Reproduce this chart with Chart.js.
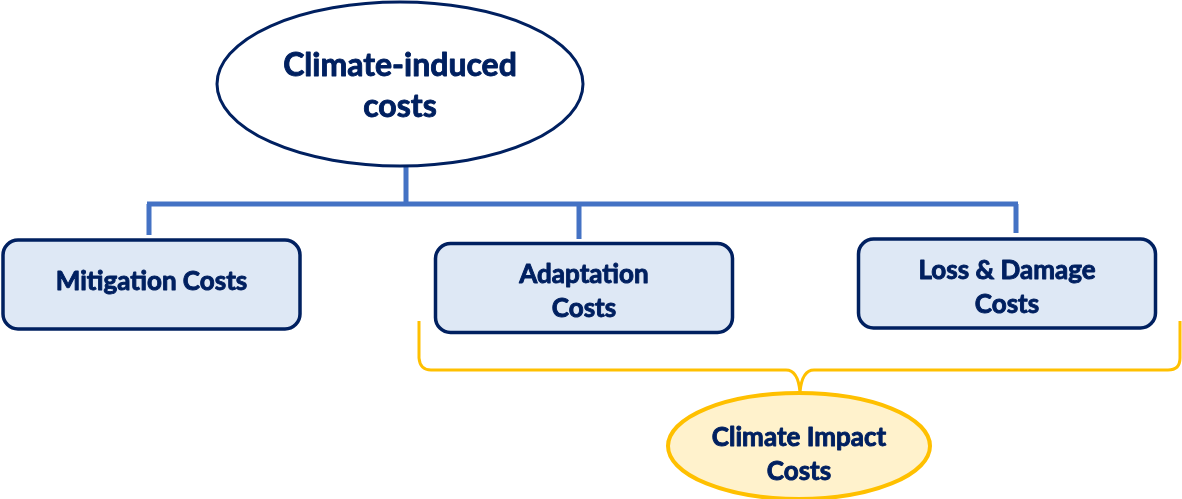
<!DOCTYPE html>
<html>
<head>
<meta charset="utf-8">
<script src="https://cdn.jsdelivr.net/npm/chart.js@4"></script>
<style>
html, body { margin: 0; padding: 0; background: #fff; }
#wrap { width: 1182px; height: 499px; }
</style>
</head>
<body>
<div id="wrap"><canvas id="diagram"></canvas></div>
<script>
// Nodos del diagrama (centros en unidades del diagrama)
const nodeLabels = [['Climate-induced', 'costs'], ['Mitigation Costs'], ['Adaptation', 'Costs'], ['Loss & Damage', 'Costs'], ['Climate Impact', 'Costs']];
const nodeKinds = ['root', 'box', 'box', 'box', 'impact'];
const nodeX = [400, 151.5, 584, 1007, 799];
const nodeY = [84, 284.5, 288, 283.5, 446];
// Desplazamiento vertical del texto respecto al centro del nodo
const labelShift = [2.5, -2.5, 3.5, 4, 9];

// Conectores del árbol: [x1, y1, x2, y2]
const treeLines = [
    [406, 166, 406, 204],
    [147, 204, 1018, 204],
    [149, 204, 149, 235],
    [579, 204, 579, 239],
    [1016, 204, 1016, 233]
];

// Llave amarilla bajo Adaptation y Loss & Damage
const braceLeft = 419, braceRight = 1180, braceTop = 321, braceMid = 370, braceTip = 392, braceCenter = 800;

// Estilos por tipo de nodo (tamaños en unidades del diagrama)
const kindStyle = {
    root:   { shape: 'ellipse', w: 366, h: 164, fill: '#ffffff', stroke: '#002060', lw: 3, font: 32, lineGap: 41 },
    box:    { shape: 'rect',    w: 297, h: 89,  fill: '#dee8f5', stroke: '#002060', lw: 3.5, font: 26, lineGap: 34 },
    impact: { shape: 'ellipse', w: 262, h: 106, fill: '#fff2cc', stroke: '#ffc000', lw: 4, font: 26, lineGap: 34 }
};

const diagramPlugin = {
    id: 'diagram',
    afterDatasetsDraw(chart) {
        const { ctx, scales: { x, y } } = chart;
        const px = v => x.getPixelForValue(v);
        const py = v => y.getPixelForValue(v);

        // Llave
        ctx.save();
        ctx.strokeStyle = '#ffc000';
        ctx.lineWidth = 3;
        ctx.lineJoin = 'round';
        ctx.beginPath();
        ctx.moveTo(px(braceLeft), py(braceTop));
        ctx.lineTo(px(braceLeft), py(braceMid - 12));
        ctx.quadraticCurveTo(px(braceLeft + 1), py(braceMid), px(braceLeft + 12), py(braceMid));
        ctx.lineTo(px(braceCenter - 14), py(braceMid));
        ctx.quadraticCurveTo(px(braceCenter - 2), py(braceMid), px(braceCenter), py(braceTip));
        ctx.quadraticCurveTo(px(braceCenter + 2), py(braceMid), px(braceCenter + 14), py(braceMid));
        ctx.lineTo(px(braceRight - 12), py(braceMid));
        ctx.quadraticCurveTo(px(braceRight), py(braceMid), px(braceRight), py(braceMid - 12));
        ctx.lineTo(px(braceRight), py(braceTop));
        ctx.stroke();
        ctx.restore();

        // Nodos
        nodeLabels.forEach((lines, i) => {
            const st = kindStyle[nodeKinds[i]];
            const cx = px(nodeX[i]), cy = py(nodeY[i]);
            const w = px(nodeX[i] + st.w / 2) - px(nodeX[i] - st.w / 2);
            const h = Math.abs(py(nodeY[i] + st.h / 2) - py(nodeY[i] - st.h / 2));
            ctx.save();
            ctx.beginPath();
            if (st.shape === 'ellipse') {
                ctx.ellipse(cx, cy, w / 2, h / 2, 0, 0, Math.PI * 2);
            } else {
                ctx.roundRect(cx - w / 2, cy - h / 2, w, h, 15);
            }
            ctx.fillStyle = st.fill;
            ctx.fill();
            ctx.strokeStyle = st.stroke;
            ctx.lineWidth = st.lw;
            ctx.stroke();

            // Texto (con trazo fino para engrosar la negrita)
            ctx.fillStyle = '#002060';
            ctx.strokeStyle = '#002060';
            ctx.lineWidth = 0.9;
            ctx.lineJoin = 'round';
            ctx.font = 'bold ' + st.font + 'px Lato';
            ctx.textAlign = 'center';
            ctx.textBaseline = 'middle';
            const ty = py(nodeY[i] + labelShift[i]);
            const start = ty - (lines.length - 1) * st.lineGap / 2;
            lines.forEach((t, j) => {
                ctx.fillText(t, cx, start + j * st.lineGap);
                ctx.strokeText(t, cx, start + j * st.lineGap);
            });
            ctx.restore();
        });
    }
};

new Chart(document.getElementById('diagram'), {
    type: 'scatter',
    data: {
        datasets: treeLines.map(l => ({
            data: [{ x: l[0], y: l[1] }, { x: l[2], y: l[3] }],
            showLine: true,
            borderColor: '#4472c4',
            borderWidth: 5,
            borderCapStyle: 'butt',
            pointRadius: 0
        }))
    },
    options: {
        responsive: true,
        maintainAspectRatio: false,
        animation: false,
        layout: { padding: 0 },
        plugins: { legend: { display: false }, tooltip: { enabled: false } },
        scales: {
            x: { type: 'linear', min: 0, max: 1182, display: false },
            y: { type: 'linear', min: 0, max: 499, reverse: true, display: false }
        }
    },
    plugins: [diagramPlugin]
});
</script>
</body>
</html>
